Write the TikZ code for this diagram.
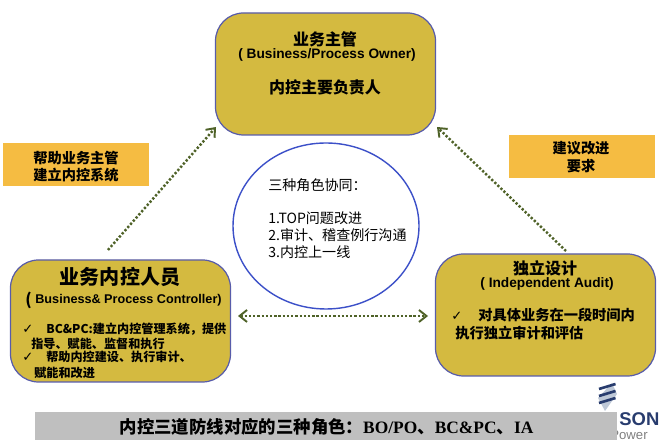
\documentclass[tikz,border=0pt]{standalone}
\usepackage{fontspec}
\setmainfont{Noto Sans CJK SC}
\newfontfamily\latinbf{Liberation Sans}
\newfontfamily\barlatin{Liberation Serif}
\newfontfamily\tickfont{DejaVu Sans}
\usepackage{xcolor}
\usepackage{tikz}
\usetikzlibrary{positioning,shapes.geometric,arrows.meta}

\definecolor{boxgold}{RGB}{212,186,64}
\definecolor{boxedge}{RGB}{88,92,170}
\definecolor{tagorange}{RGB}{245,188,66}
\definecolor{arrowgreen}{RGB}{79,98,40}
\definecolor{ringblue}{RGB}{60,80,200}
\definecolor{bargrey}{RGB}{191,191,191}
\definecolor{logonavy}{RGB}{40,60,110}
\definecolor{logopale}{RGB}{190,200,215}

\tikzset{
  >={Straight Barb[length=1.5mm,width=2.4mm,line width=1.1pt]},
  rolebox/.style={shape=rectangle,rounded corners=0.56cm,draw=boxedge,line width=0.7pt,fill=boxgold,minimum width=4.40cm,minimum height=2.44cm},
  tagbox/.style={shape=rectangle,fill=tagorange,minimum width=2.92cm,minimum height=0.86cm},
  dotarrow/.style={arrowgreen,line width=1.4pt,dash pattern=on 1.3pt off 1.1pt},
  head/.style={font=\bfseries\fontsize{9.1}{10}\selectfont,inner sep=0pt},
  latin/.style={font=\latinbf\bfseries\fontsize{7.8}{9}\selectfont,inner sep=0pt},
  small/.style={font=\bfseries\fontsize{6.9}{8}\selectfont,inner sep=0pt,anchor=west},
  mid/.style={font=\bfseries\fontsize{8.1}{9}\selectfont,inner sep=0pt},
  plain/.style={font=\fontsize{8}{9}\selectfont,inner sep=0pt,anchor=west},
  tick/.style={font=\tickfont\fontsize{7.5}{8}\selectfont,inner sep=0pt},
}

\begin{document}
\begin{tikzpicture}
\useasboundingbox (0,0) rectangle (13.2,8.96);

% logo goes under the grey bar
\node[font=\latinbf\bfseries\fontsize{10.5}{12}\selectfont,text=logonavy,inner sep=0pt,anchor=west] (son) at (12.38,0.58) {SON};
\node[font=\latinbf\fontsize{7.5}{8}\selectfont,text=gray,inner sep=0pt,anchor=west] (power) at (12.20,0.25) {Power};
\fill[logopale] (12.24,1.30) -- (12.34,1.08) -- (12.10,0.74) -- (11.96,1.00) -- cycle;
\foreach \i in {0,1,2} {
  \draw[logonavy,line width=1.5pt] (11.98,0.90+0.14*\i) -- (12.31,1.00+0.14*\i);
}

\node[rolebox] (owner) at (6.51,7.48) {};
\node[rolebox] (control) at (2.41,2.54) {};
\node[rolebox] (audit) at (10.91,2.66) {};
\node[shape=ellipse,draw=ringblue,line width=0.8pt,minimum width=3.72cm,minimum height=3.32cm] (ring) at (6.52,4.44) {};
\node[tagbox] (helptag) at (1.52,5.67) {};
\node[tagbox] (advisetag) at (11.63,5.83) {};
\node[shape=rectangle,fill=bargrey,minimum width=11.64cm,minimum height=0.56cm] (bar) at (6.52,0.44) {};

% top box
\node[head] (ownername) at (6.50,8.18) {业务主管};
\node[latin] (ownereng) at (6.54,7.86) {( Business/Process Owner)};
\node[head] (ownerduty) at (6.50,7.22) {内控主要负责人};

% left box
\node[head,font=\bfseries\fontsize{11.4}{12}\selectfont] (controlname) at (2.40,3.42) {业务内控人员};
\node[head,anchor=west] (controlparen) at (0.50,2.96) {(};
\node[latin,anchor=west,font=\latinbf\bfseries\fontsize{7.2}{8}\selectfont] (controleng) at (0.70,2.96) {Business\& Process Controller)};
\node[tick] (tickone) at (0.56,2.38) {✓};
\node[small] (lineone) at (0.92,2.38) {BC\&PC:建立内控管理系统，提供};
\node[small] (linetwo) at (0.62,2.08) {指导、赋能、监督和执行};
\node[tick] (ticktwo) at (0.56,1.82) {✓};
\node[small] (linethree) at (0.92,1.82) {帮助内控建设、执行审计、};
\node[small] (linefour) at (0.68,1.50) {赋能和改进};

% right box
\node[head] (auditname) at (10.90,3.60) {独立设计};
\node[latin] (auditeng) at (10.94,3.28) {( Independent Audit)};
\node[tick] (tickthree) at (9.14,2.64) {✓};
\node[mid,anchor=west] (auditone) at (9.56,2.66) {对具体业务在一段时间内};
\node[mid,anchor=west] (audittwo) at (9.10,2.30) {执行独立审计和评估};

% ellipse text
\node[plain] (ringtitle) at (5.36,5.26) {三种角色协同：};
\node[plain] (ringone) at (5.36,4.60) {1.TOP问题改进};
\node[plain] (ringtwo) at (5.36,4.26) {2.审计、稽查例行沟通};
\node[plain] (ringthree) at (5.36,3.92) {3.内控上一线};

% tags
\node[mid] (helpone) at (1.52,5.80) {帮助业务主管};
\node[mid] (helptwo) at (1.52,5.46) {建立内控系统};
\node[mid] (adviseone) at (11.62,6.00) {建议改进};
\node[mid] (advisetwo) at (11.62,5.64) {要求};

% bottom line
\node[head,font=\bfseries\fontsize{9.9}{11}\selectfont] (bartext) at (6.53,0.42) {内控三道防线对应的三种角色：{\barlatin BO/PO}、{\barlatin BC\&PC}、{\barlatin IA}};

% arrows
\coordinate (leftfoot) at (2.16,3.96);
\coordinate (lefttip) at (4.32,6.42);
\coordinate (rightfoot) at (11.32,3.94);
\coordinate (righttip) at (8.74,6.42);
\coordinate (midleft) at (4.76,2.64);
\coordinate (midright) at (8.56,2.64);

\path [dotarrow,->] (leftfoot) edge (lefttip);
\path [dotarrow,->] (rightfoot) edge (righttip);
\path [dotarrow,<->] (midleft) edge (midright);

\end{tikzpicture}
\end{document}
